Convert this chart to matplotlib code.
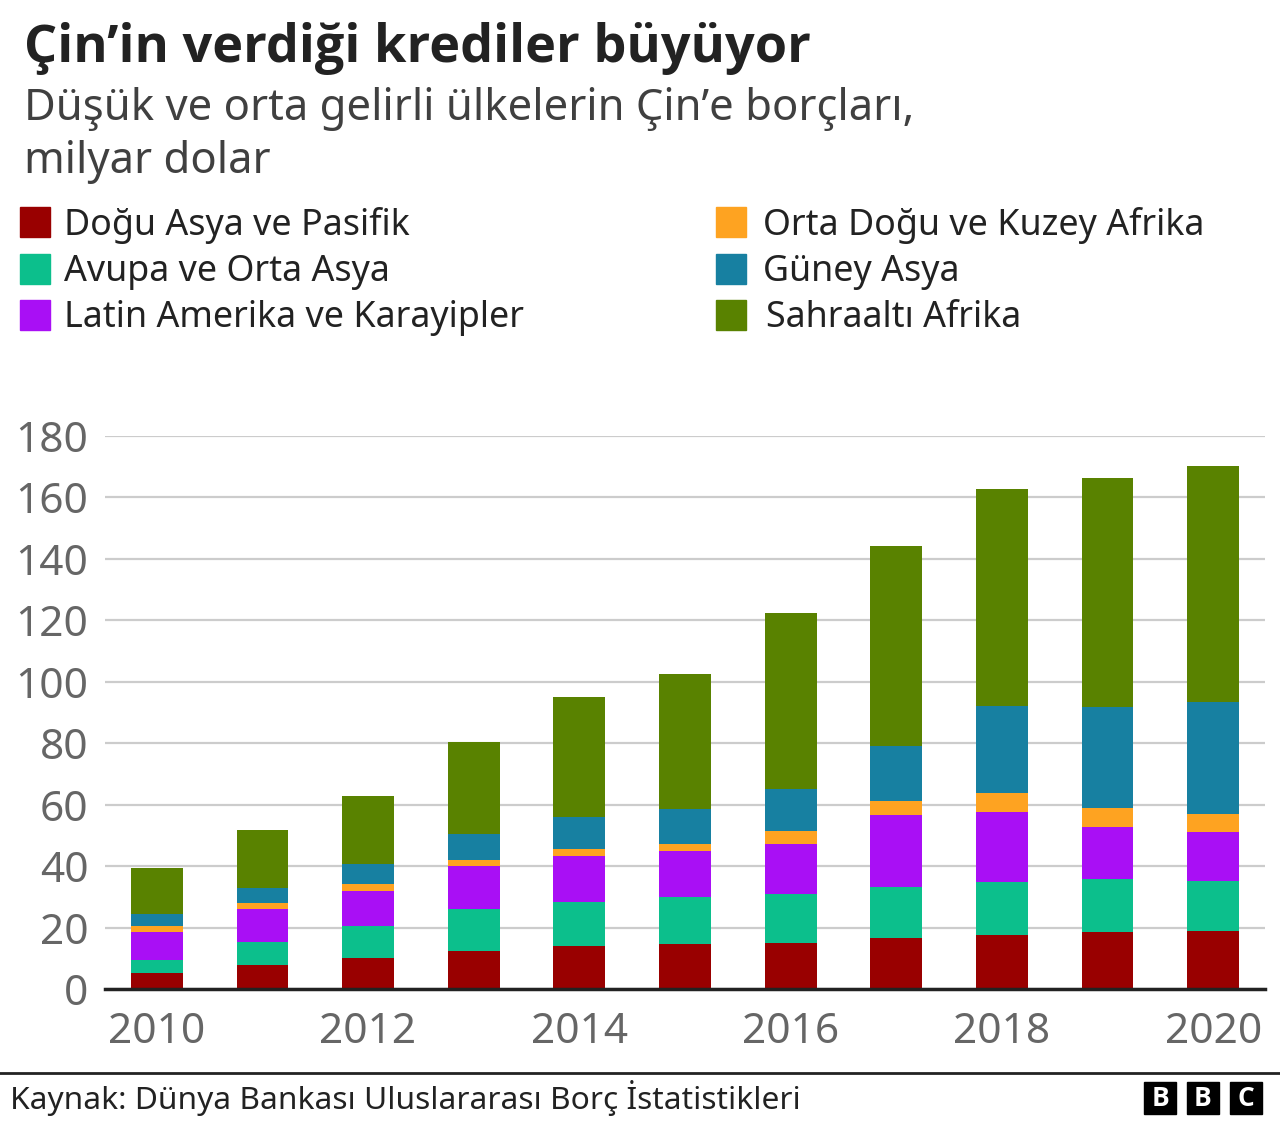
import matplotlib
matplotlib.use("Agg")
import matplotlib.pyplot as plt
import numpy as np
from matplotlib.patches import Rectangle

plt.rcParams['font.family'] = ['Noto Sans', 'DejaVu Sans']
bold_family = ['Open Sans', 'Roboto', 'DejaVu Sans']

# ---------------------------
# datos (milyar dolar)
years = [2010, 2011, 2012, 2013, 2014, 2015, 2016, 2017, 2018, 2019, 2020]
dogu_asya = [5.3, 7.7, 10.2, 12.5, 14.1, 14.8, 15.1, 16.7, 17.5, 18.4, 18.8]
avrupa_orta_asya = [4.1, 7.5, 10.2, 13.5, 14.3, 15.2, 15.7, 16.4, 17.2, 17.3, 16.5]
latin_amerika = [9.2, 10.9, 11.6, 14.0, 14.9, 15.0, 16.4, 23.6, 22.9, 16.9, 15.8]
orta_dogu = [1.8, 1.9, 2.2, 2.0, 2.2, 2.1, 4.3, 4.5, 6.2, 6.3, 5.9]
guney_asya = [4.0, 4.8, 6.4, 8.6, 10.6, 11.6, 13.6, 17.9, 28.3, 33.0, 36.4]
sahraalti = [15.1, 19.0, 22.1, 29.8, 39.1, 43.8, 57.2, 65.1, 70.6, 74.5, 76.8]

series = [
    ("Doğu Asya ve Pasifik", dogu_asya, "#990000"),
    ("Avupa ve Orta Asya", avrupa_orta_asya, "#0cbf8c"),
    ("Latin Amerika ve Karayipler", latin_amerika, "#a90ff5"),
    ("Orta Doğu ve Kuzey Afrika", orta_dogu, "#fea321"),
    ("Güney Asya", guney_asya, "#1780a1"),
    ("Sahraaltı Afrika", sahraalti, "#598200"),
]

W, H = 1280, 1122

def fx(x):
    return x / W

def fy(y):
    return 1 - y / H

fig = plt.figure(figsize=(12.8, 11.22), dpi=100)

# ---------------------------
# títulos
fig.text(fx(24), fy(62), "Çin’in verdiği krediler büyüyor", fontsize=37.6,
         fontweight="bold", family=bold_family, color="#222222",
         va="baseline", ha="left")
fig.text(fx(24), fy(120), "Düşük ve orta gelirli ülkelerin Çin’e borçları,",
         fontsize=31.4, color="#404040", va="baseline", ha="left")
fig.text(fx(24), fy(173), "milyar dolar", fontsize=31.4, color="#404040",
         va="baseline", ha="left")

# leyenda manual en dos columnas
leg_pos = [(20, 64, 222), (20, 64, 269), (20, 64, 315),
           (716, 763, 222), (716, 763, 269), (716, 766, 315)]
for (name, _, color), (sx, tx, cy) in zip(series, leg_pos):
    fig.patches.append(Rectangle((fx(sx), fy(cy + 15)), 30 / W, 30 / H,
                                 transform=fig.transFigure, color=color))
    fig.text(fx(tx), fy(cy + 3), name, fontsize=25.8, color="#222222",
             va="center", ha="left")

# ---------------------------
# barras apiladas
ax = fig.add_axes([fx(105), fy(989), 1160 / W, (989 - 436) / H])
bottom = np.zeros(len(years))
for name, vals, color in series:
    ax.bar(years, vals, bottom=bottom, width=0.49, color=color, zorder=3)
    bottom += np.array(vals)

ax.set_xlim(years[0] - 0.49, years[-1] + 0.49)
ax.set_ylim(0, 180)
ax.set_yticks(range(0, 181, 20))
ax.set_xticks(years[::2])
ax.grid(axis="y", color="#cccccc", linewidth=1.6, zorder=0)
ax.tick_params(axis="both", length=0, labelsize=30.5, labelcolor="#666666")
ax.tick_params(axis="y", pad=12)
ax.tick_params(axis="x", pad=16)
for side in ["top", "right", "left"]:
    ax.spines[side].set_visible(False)
ax.spines["bottom"].set_color("#222222")
ax.spines["bottom"].set_linewidth(2.5)
ax.spines["bottom"].set_zorder(4)

# ---------------------------
# pie de página
fig.add_artist(plt.Line2D([0, 1], [fy(1073), fy(1073)], color="#222222",
                          linewidth=2, transform=fig.transFigure))
fig.text(fx(10), fy(1098), "Kaynak: Dünya Bankası Uluslararası Borç İstatistikleri",
         fontsize=22.8, color="#222222", va="center", ha="left")
for i, letter in enumerate("BBC"):
    x0 = 1144 + i * 43
    fig.patches.append(Rectangle((fx(x0), fy(1114)), 32 / W, 32 / H,
                                 transform=fig.transFigure, color="black"))
    fig.text(fx(x0 + 16), fy(1098), letter, fontsize=19, fontweight="bold",
             family=bold_family, color="white", va="center", ha="center")

fig.savefig("out.png", dpi=100)
